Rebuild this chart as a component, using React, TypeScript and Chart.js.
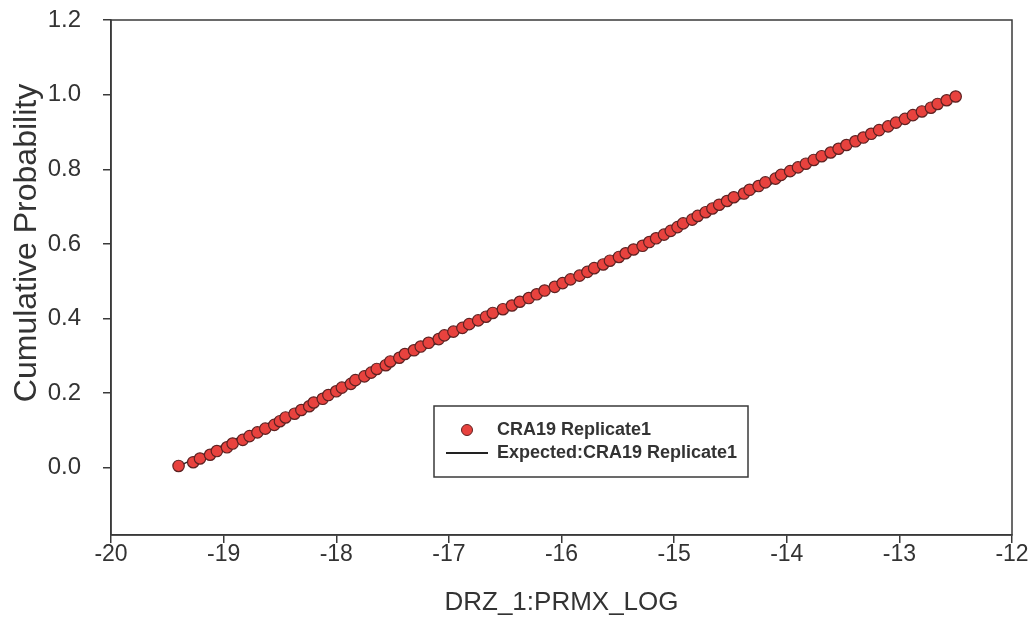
import React, { useEffect, useRef } from "react";
import { Chart, registerables } from "chart.js";

Chart.register(...registerables);

const SERIES_LABEL = "CRA19 Replicate1";
const EXPECTED_LABEL = "Expected:CRA19 Replicate1";
const X_TITLE = "DRZ_1:PRMX_LOG";
const Y_TITLE = "Cumulative Probability";

const X_VALUES = [
  -19.40, -19.27, -19.21, -19.12, -19.06, -18.97, -18.92, -18.83, -18.77, -18.70,
  -18.63, -18.55, -18.50, -18.45, -18.37, -18.31, -18.24, -18.20, -18.12, -18.07,
  -18.00, -17.95, -17.87, -17.83, -17.75, -17.69, -17.64, -17.56, -17.52, -17.44,
  -17.39, -17.31, -17.25, -17.18, -17.09, -17.04, -16.96, -16.88, -16.82, -16.74,
  -16.67, -16.61, -16.52, -16.44, -16.37, -16.29, -16.22, -16.15, -16.06, -15.99,
  -15.92, -15.84, -15.77, -15.71, -15.63, -15.57, -15.49, -15.43, -15.36, -15.28,
  -15.22, -15.16, -15.09, -15.03, -14.97, -14.92, -14.84, -14.79, -14.72, -14.66,
  -14.60, -14.53, -14.47, -14.38, -14.33, -14.25, -14.19, -14.10, -14.05, -13.97,
  -13.90, -13.83, -13.76, -13.69, -13.61, -13.54, -13.47, -13.39, -13.32, -13.25,
  -13.18, -13.10, -13.03, -12.95, -12.88, -12.80, -12.72, -12.66, -12.58, -12.50,
];

const Y_VALUES = [
  0.005, 0.015, 0.025, 0.035, 0.045, 0.055, 0.065, 0.075, 0.085, 0.095,
  0.105, 0.115, 0.125, 0.135, 0.145, 0.155, 0.165, 0.175, 0.185, 0.195,
  0.205, 0.215, 0.225, 0.235, 0.245, 0.255, 0.265, 0.275, 0.285, 0.295,
  0.305, 0.315, 0.325, 0.335, 0.345, 0.355, 0.365, 0.375, 0.385, 0.395,
  0.405, 0.415, 0.425, 0.435, 0.445, 0.455, 0.465, 0.475, 0.485, 0.495,
  0.505, 0.515, 0.525, 0.535, 0.545, 0.555, 0.565, 0.575, 0.585, 0.595,
  0.605, 0.615, 0.625, 0.635, 0.645, 0.655, 0.665, 0.675, 0.685, 0.695,
  0.705, 0.715, 0.725, 0.735, 0.745, 0.755, 0.765, 0.775, 0.785, 0.795,
  0.805, 0.815, 0.825, 0.835, 0.845, 0.855, 0.865, 0.875, 0.885, 0.895,
  0.905, 0.915, 0.925, 0.935, 0.945, 0.955, 0.965, 0.975, 0.985, 0.995,
];

const EXPECTED_X = [-19.43, -12.47];
const EXPECTED_Y = [0, 1];

const X_TICKS = [-20, -19, -18, -17, -16, -15, -14, -13, -12];
const Y_TICKS = [0, 0.2, 0.4, 0.6, 0.8, 1.0, 1.2];
const X_MIN = -20;
const X_MAX = -12;
const Y_MIN = -0.18;
const Y_MAX = 1.2;

const FONT = "'Liberation Sans', Arial, Helvetica, sans-serif";
const TEXT_COLOR = "#333333";
const AXIS_COLOR = "#3a3a3a";
const POINT_FILL = "#e8423e";
const POINT_BORDER = "#5e2222";

const framePlugin = {
  id: "frame",
  afterDatasetsDraw(chart: any) {
    const { ctx, chartArea } = chart;
    ctx.save();
    ctx.strokeStyle = AXIS_COLOR;
    ctx.lineWidth = 1.5;
    ctx.strokeRect(chartArea.left, chartArea.top, chartArea.right - chartArea.left, chartArea.bottom - chartArea.top);
    ctx.restore();
  },
};

const yTitlePlugin = {
  id: "yTitle",
  afterDraw(chart: any) {
    const { ctx, chartArea } = chart;
    ctx.save();
    ctx.translate(27, chartArea.top + 223);
    ctx.rotate(-Math.PI / 2);
    ctx.fillStyle = TEXT_COLOR;
    ctx.font = `32px ${FONT}`;
    ctx.textAlign = "center";
    ctx.textBaseline = "middle";
    ctx.fillText(Y_TITLE, 0, 0);
    ctx.restore();
  },
};

const boxLegendPlugin = {
  id: "boxLegend",
  afterDraw(chart: any) {
    const { ctx, chartArea } = chart;
    const left = chartArea.left + 323;
    const top = chartArea.top + 386;
    const w = 314;
    const h = 71;
    ctx.save();
    ctx.fillStyle = "#ffffff";
    ctx.fillRect(left, top, w, h);
    ctx.strokeStyle = AXIS_COLOR;
    ctx.lineWidth = 1.5;
    ctx.strokeRect(left, top, w, h);
    const ds = chart.data.datasets;
    const row1 = top + 24;
    const row2 = top + 47;
    ctx.beginPath();
    ctx.arc(left + 33, row1, 5.5, 0, Math.PI * 2);
    ctx.fillStyle = POINT_FILL;
    ctx.fill();
    ctx.strokeStyle = POINT_BORDER;
    ctx.lineWidth = 1;
    ctx.stroke();
    ctx.beginPath();
    ctx.moveTo(left + 12, row2);
    ctx.lineTo(left + 54, row2);
    ctx.strokeStyle = "#222222";
    ctx.lineWidth = 2;
    ctx.stroke();
    ctx.fillStyle = TEXT_COLOR;
    ctx.font = `bold 18px ${FONT}`;
    ctx.textBaseline = "middle";
    ctx.textAlign = "left";
    ctx.fillText(ds[0].label, left + 63, row1);
    ctx.fillText(ds[1].label, left + 63, row2);
    ctx.restore();
  },
};

export default function App() {
  const canvasRef = useRef<HTMLCanvasElement | null>(null);

  useEffect(() => {
    document.body.style.margin = "0";
    const canvas = canvasRef.current;
    if (!canvas) return;
    const points = X_VALUES.map((x, i) => ({ x, y: Y_VALUES[i] }));
    const expected = EXPECTED_X.map((x, i) => ({ x, y: EXPECTED_Y[i] }));
    const chart = new Chart(canvas, {
      type: "scatter",
      data: {
        datasets: [
          {
            label: SERIES_LABEL,
            data: points,
            backgroundColor: POINT_FILL,
            borderColor: POINT_BORDER,
            borderWidth: 1.2,
            pointRadius: 5.7,
            order: 0,
          },
          {
            label: EXPECTED_LABEL,
            data: expected,
            showLine: true,
            borderColor: "#222222",
            borderWidth: 1.5,
            pointRadius: 0,
            order: 1,
          } as any,
        ],
      },
      options: {
        animation: false,
        responsive: false,
        maintainAspectRatio: false,
        layout: { padding: { left: 0, right: 23, top: 20, bottom: 0 } },
        plugins: {
          legend: { display: false },
          tooltip: { enabled: false },
        },
        scales: {
          x: {
            type: "linear",
            min: X_MIN,
            max: X_MAX,
            afterBuildTicks: (scale: any) => {
              scale.ticks = X_TICKS.map((v) => ({ value: v }));
            },
            afterFit: (scale: any) => {
              scale.height = 99;
              scale.paddingLeft = 0;
              scale.paddingRight = 0;
            },
            grid: { drawOnChartArea: false, tickLength: 8, color: AXIS_COLOR, lineWidth: 1.5 },
            border: { display: true, color: AXIS_COLOR, width: 1.5 },
            ticks: {
              color: TEXT_COLOR,
              font: { family: FONT, size: 23 },
              padding: -2,
              maxRotation: 0,
              callback: (v: any) => String(v),
            },
            title: {
              display: true,
              text: X_TITLE,
              color: TEXT_COLOR,
              font: { family: FONT, size: 26 },
              padding: { top: 4, bottom: 16 },
            },
          },
          y: {
            type: "linear",
            min: Y_MIN,
            max: Y_MAX,
            afterBuildTicks: (scale: any) => {
              scale.ticks = Y_TICKS.map((v) => ({ value: v }));
            },
            afterFit: (scale: any) => {
              scale.width = 111;
              scale.paddingTop = 0;
              scale.paddingBottom = 0;
            },
            grid: { drawOnChartArea: false, tickLength: 8, color: AXIS_COLOR, lineWidth: 1.5 },
            border: { display: true, color: AXIS_COLOR, width: 1.5 },
            ticks: {
              color: TEXT_COLOR,
              font: { family: FONT, size: 24 },
              padding: 22,
              callback: (v: any) => Number(v).toFixed(1),
            },
            title: { display: false },
          },
        },
      },
      plugins: [framePlugin, yTitlePlugin, boxLegendPlugin],
    });
    return () => chart.destroy();
  }, []);

  return (
    <div style={{ width: 1035, height: 634, background: "#ffffff" }}>
      <canvas ref={canvasRef} width={1035} height={634} style={{ display: "block" }} />
    </div>
  );
}
